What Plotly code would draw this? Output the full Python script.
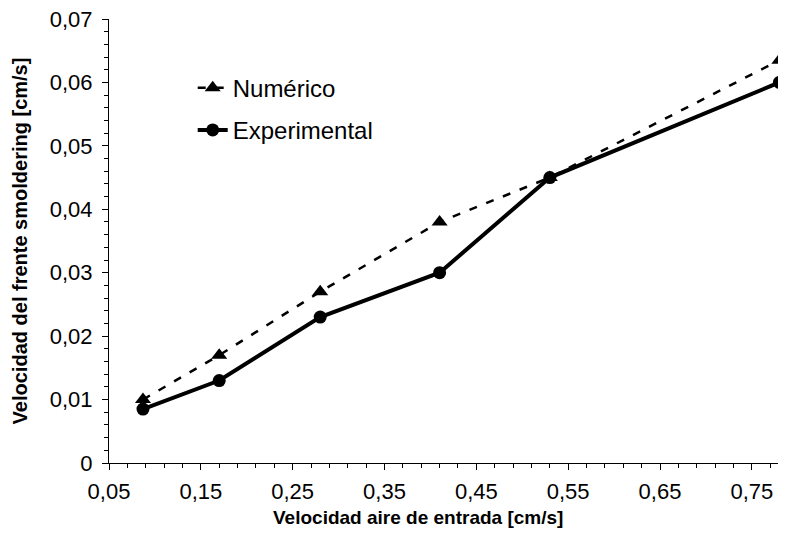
import plotly.graph_objects as go

x_num = [0.087, 0.17, 0.28, 0.41, 0.53, 0.78]
y_num = [0.010, 0.017, 0.027, 0.038, 0.045, 0.0635]
x_exp = [0.087, 0.17, 0.28, 0.41, 0.53, 0.78]
y_exp = [0.0085, 0.013, 0.023, 0.030, 0.045, 0.060]

x_ticks = [0.05, 0.15, 0.25, 0.35, 0.45, 0.55, 0.65, 0.75]
x_labels = ["0,05", "0,15", "0,25", "0,35", "0,45", "0,55", "0,65", "0,75"]
y_ticks = [0, 0.01, 0.02, 0.03, 0.04, 0.05, 0.06, 0.07]
y_labels = ["0", "0,01", "0,02", "0,03", "0,04", "0,05", "0,06", "0,07"]

font = "Liberation Sans, Arial, sans-serif"

fig = go.Figure()
fig.add_trace(go.Scatter(
    x=x_num, y=y_num, name="Numérico", mode="lines+markers",
    legendgroup="a", cliponaxis=False,
    line=dict(color="black", width=2.5, dash="8px,10px"),
    marker=dict(symbol="triangle-up", size=14, color="black"),
))
fig.add_trace(go.Scatter(
    x=x_exp, y=y_exp, name="Experimental", mode="lines+markers",
    legendgroup="b", cliponaxis=False,
    line=dict(color="black", width=4),
    marker=dict(symbol="circle", size=13, color="black"),
))

fig.update_layout(
    width=778, height=521,
    margin=dict(l=101, r=2, t=11, b=66),
    paper_bgcolor="white", plot_bgcolor="white",
    font=dict(family=font, size=22, color="black"),
    showlegend=True,
    legend=dict(x=0.124, y=0.895, xanchor="left", yanchor="top",
                bgcolor="rgba(0,0,0,0)", font=dict(size=24, family=font),
                traceorder="grouped", tracegroupgap=8),
    xaxis=dict(
        range=[0.05, 0.785], tickvals=x_ticks, ticktext=x_labels, automargin=False,
        showgrid=False, zeroline=False, showline=True, linecolor="black", linewidth=1,
        ticks="outside", ticklen=6, tickcolor="black", ticklabelstandoff=3,
        ticklabeloverflow="allow",
        minor=dict(dtick=0.02, tick0=0.05, ticks="outside", ticklen=4, tickcolor="black", showgrid=False),
        tickfont=dict(size=22),
    ),
    yaxis=dict(
        range=[0, 0.07], tickvals=y_ticks, ticktext=y_labels, automargin=False,
        showgrid=False, zeroline=False, showline=True, linecolor="black", linewidth=1,
        ticks="outside", ticklen=6, tickcolor="black", ticklabelstandoff=5,
        ticklabeloverflow="allow",
        minor=dict(dtick=0.002, tick0=0, ticks="outside", ticklen=4, tickcolor="black", showgrid=False),
        title=dict(text="<b>Velocidad del frente smoldering [cm/s]</b>", font=dict(size=20, family=font), standoff=16),
        tickfont=dict(size=22),
    ),
    annotations=[dict(
        text="<b>Velocidad aire de entrada [cm/s]</b>", xref="paper", yref="paper",
        x=0.458, y=-0.122, xanchor="center", yanchor="middle", showarrow=False,
        font=dict(size=19, family=font),
    )],
)

fig.write_html("out.html")
